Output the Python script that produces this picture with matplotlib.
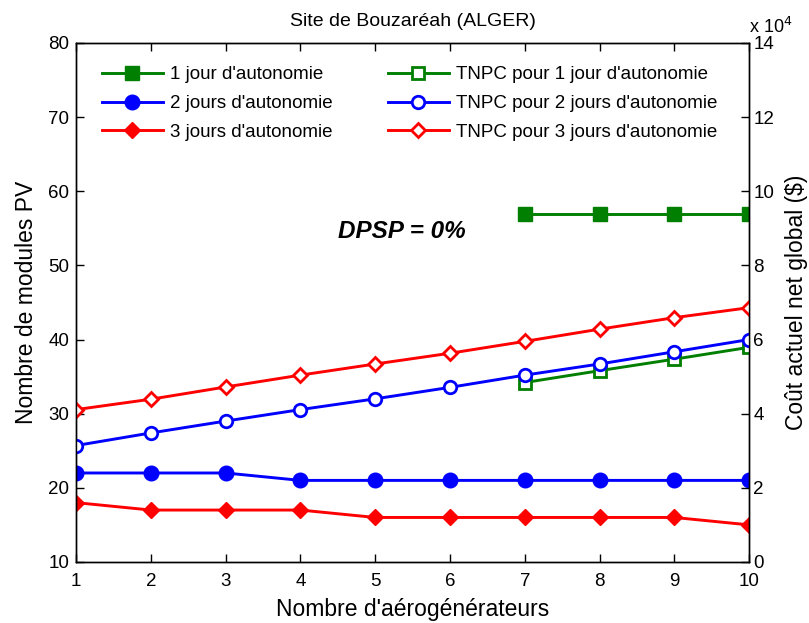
import matplotlib
matplotlib.use("Agg")
import matplotlib.pyplot as plt
from matplotlib.ticker import FuncFormatter

plt.rcParams['font.family'] = ['Liberation Sans', 'DejaVu Sans']

# Number of wind turbines
turbines = [1, 2, 3, 4, 5, 6, 7, 8, 9, 10]

# Number of PV modules per autonomy level
pv_1day_x = [7, 8, 9, 10]
pv_1day = [57, 57, 57, 57]
pv_2days = [22, 22, 22, 21, 21, 21, 21, 21, 21, 21]
pv_3days = [18, 17, 17, 17, 16, 16, 16, 16, 16, 15]

# Total net present cost ($)
tnpc_1day_x = [7, 8, 9, 10]
tnpc_1day = [48400, 51600, 54700, 57900]
tnpc_2days = [31400, 34800, 38000, 41100, 44000, 47100, 50400, 53400, 56700, 60000]
tnpc_3days = [41100, 43900, 47200, 50400, 53400, 56300, 59500, 62800, 65900, 68600]

labels_pv = ["1 jour d'autonomie", "2 jours d'autonomie", "3 jours d'autonomie"]
labels_tnpc = ["TNPC pour 1 jour d'autonomie", "TNPC pour 2 jours d'autonomie",
               "TNPC pour 3 jours d'autonomie"]

green, blue, red = "#007F00", "#0000FF", "#FF0000"
lw = 2.1

fig = plt.figure(figsize=(8.09, 6.23), dpi=100)
ax = fig.add_axes([0.094, 0.098, 0.832, 0.833])
ax2 = ax.twinx()

h1, = ax.plot(pv_1day_x, pv_1day, color=green, lw=lw, marker='s', ms=10.5,
              mfc=green, mec=green, label=labels_pv[0])
h2, = ax.plot(turbines, pv_2days, color=blue, lw=lw, marker='o', ms=10.5,
              mfc=blue, mec=blue, label=labels_pv[1])
h3, = ax.plot(turbines, pv_3days, color=red, lw=lw, marker='D', ms=8,
              mfc=red, mec=red, label=labels_pv[2])

h4, = ax2.plot(tnpc_1day_x, tnpc_1day, color=green, lw=lw, marker='s', ms=8.5,
               mfc='white', mec=green, mew=2, label=labels_tnpc[0])
h5, = ax2.plot(turbines, tnpc_2days, color=blue, lw=lw, marker='o', ms=9,
               mfc='white', mec=blue, mew=2, label=labels_tnpc[1])
h6, = ax2.plot(turbines, tnpc_3days, color=red, lw=lw, marker='D', ms=7,
               mfc='white', mec=red, mew=2, label=labels_tnpc[2])

ax.set_xlim(1, 10)
ax.set_ylim(10, 80)
ax.set_xticks(turbines)
ax.set_yticks(range(10, 81, 10))
ax2.set_ylim(0, 140000)
ax2.set_yticks(range(0, 140001, 20000))
ax2.yaxis.set_major_formatter(FuncFormatter(lambda v, p: f"{v / 1e4:g}"))

for a in (ax, ax2):
    a.tick_params(direction='in', labelsize=13.5, length=6, width=1)
    for s in a.spines.values():
        s.set_linewidth(1.0)
ax.tick_params(axis='x', top=True, pad=8)
ax.tick_params(axis='y', right=False, pad=5)
ax2.tick_params(axis='y', pad=3)

ax.set_xlabel("Nombre d'aérogénérateurs", fontsize=16.5, labelpad=6)
ax.set_ylabel("Nombre de modules PV", fontsize=16.5, labelpad=7)
ax2.set_ylabel("Coût actuel net global ($)", fontsize=16.5, labelpad=8)
ax.set_title("Site de Bouzaréah (ALGER)", fontsize=14, pad=12)

ax2.text(1.0, 1.012, r"x 10$^{4}$", transform=ax2.transAxes, fontsize=13,
         ha='left', va='bottom')

ax.text(5.36, 54.6, "DPSP = 0%", fontsize=17.5, fontweight='bold', style='italic',
        ha='center', va='center')

ax.legend([h1, h2, h3, h4, h5, h6], labels_pv + labels_tnpc, ncol=2,
          loc='upper left', bbox_to_anchor=(0.0386, 0.955), borderaxespad=0,
          borderpad=0, frameon=False, fontsize=13.5, handlelength=3.25,
          handletextpad=0.37, columnspacing=2.95, labelspacing=0.62)

fig.savefig("out.png", dpi=100)
